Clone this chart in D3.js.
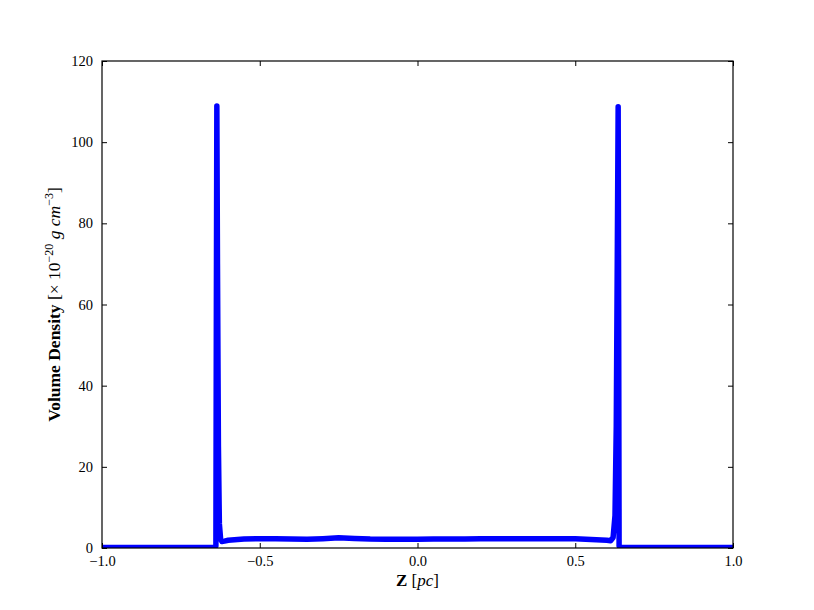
<!DOCTYPE html>
<html>
<head>
<meta charset="utf-8">
<script src="https://cdn.jsdelivr.net/npm/d3@7"></script>
<style>
body { margin: 0; background: #fff; }
text { font-family: "Liberation Serif", "Times New Roman", serif; fill: #000; }
</style>
</head>
<body>
<div id="chartDiv"></div>
<script>
var width = 814;
var height = 610;
var margin = { top: 61, right: 81, bottom: 62, left: 102 };

// z position [pc]
var zValues = [-1.0, -0.643, -0.639, -0.6375, -0.636, -0.634, -0.631, -0.628, -0.624, -0.620, -0.612, -0.600,
    -0.55, -0.50, -0.45, -0.40, -0.35, -0.30, -0.25, -0.20, -0.15, -0.10, -0.05, 0.0,
    0.05, 0.10, 0.15, 0.20, 0.25, 0.30, 0.35, 0.40, 0.45, 0.50, 0.55, 0.60, 0.612, 0.620,
    0.626, 0.630, 0.6335, 0.636, 0.6375, 0.639, 0.643, 1.0];
// density [1e-20 g cm^-3]
var densityValues = [0.1, 0.1, 0.5, 60, 108.9, 70, 25, 6, 2.2, 1.6, 1.7, 1.9,
    2.2, 2.3, 2.25, 2.2, 2.15, 2.3, 2.5, 2.35, 2.2, 2.15, 2.15, 2.15,
    2.2, 2.2, 2.2, 2.25, 2.3, 2.3, 2.25, 2.25, 2.3, 2.3, 2.1, 1.9, 1.8, 2.6,
    8, 30, 75, 108.7, 60, 0.5, 0.1, 0.1];

var xTicks = [-1.0, -0.5, 0.0, 0.5, 1.0];
var yTicks = [0, 20, 40, 60, 80, 100, 120];
var xDomain = [-1, 1];
var yDomain = [0, 120];

var chartWidth = width - margin.left - margin.right;
var chartHeight = height - margin.top - margin.bottom;

var x = d3.scaleLinear().domain(xDomain).range([0, chartWidth]);
var y = d3.scaleLinear().domain(yDomain).range([chartHeight, 0]);

var fmtX = function(d) { return d3.format(".1f")(d).replace("-", "\u2212"); };

var chart = d3.select("#chartDiv").append("svg")
    .attr("width", width)
    .attr("height", height);

chart.append("defs").append("clipPath")
    .attr("id", "plotClip")
    .append("rect")
    .attr("width", chartWidth)
    .attr("height", chartHeight);

var plotArea = chart.append("g")
    .attr("transform", "translate(" + margin.left + "," + margin.top + ")");

var data = zValues.map(function(z, i) { return { z: z, rho: densityValues[i] }; });

var line = d3.line()
    .x(function(d) { return x(d.z); })
    .y(function(d) { return y(d.rho); });

plotArea.append("g")
    .attr("clip-path", "url(#plotClip)")
    .append("path")
    .datum(data)
    .attr("d", line)
    .attr("fill", "none")
    .attr("stroke", "#0000ff")
    .attr("stroke-width", 5.5)
    .attr("stroke-linejoin", "round")
    .attr("stroke-linecap", "round");

// axes, ticks pointing inward on all four sides
var tickLen = 5;
var xAxisBottom = d3.axisBottom(x).tickValues(xTicks).tickSizeInner(-tickLen).tickSizeOuter(0).tickPadding(8).tickFormat(fmtX);
var xAxisTop = d3.axisTop(x).tickValues(xTicks).tickSizeInner(-tickLen).tickSizeOuter(0).tickFormat("");
var yAxisLeft = d3.axisLeft(y).tickValues(yTicks).tickSizeInner(-tickLen).tickSizeOuter(0).tickPadding(9);
var yAxisRight = d3.axisRight(y).tickValues(yTicks).tickSizeInner(-tickLen).tickSizeOuter(0).tickFormat("");

function styleAxis(g) {
    g.select(".domain").remove();
    g.selectAll(".tick line").attr("stroke", "#000").attr("stroke-width", 1);
    g.selectAll(".tick text").style("font-size", "14.5px").style("font-family", "Liberation Serif, serif").attr("fill", "#000");
}

plotArea.append("g").attr("transform", "translate(0," + chartHeight + ")").call(xAxisBottom).call(styleAxis);
plotArea.append("g").call(xAxisTop).call(styleAxis);
plotArea.append("g").call(yAxisLeft).call(styleAxis);
plotArea.append("g").attr("transform", "translate(" + chartWidth + ",0)").call(yAxisRight).call(styleAxis);

// frame
plotArea.append("rect")
    .attr("width", chartWidth)
    .attr("height", chartHeight)
    .attr("fill", "none")
    .attr("stroke", "#000")
    .attr("stroke-width", 1.2);

// x label
var xLabel = chart.append("text")
    .attr("text-anchor", "middle")
    .attr("x", margin.left + chartWidth / 2)
    .attr("y", 586)
    .style("font-size", "17px");
xLabel.append("tspan").style("font-weight", "bold").text("Z ");
xLabel.append("tspan").text("[");
xLabel.append("tspan").style("font-style", "italic").text("pc");
xLabel.append("tspan").text("]");

// y label
var yLabel = chart.append("text")
    .attr("text-anchor", "middle")
    .attr("transform", "translate(60," + (margin.top + chartHeight / 2) + ") rotate(-90)")
    .style("font-size", "17.5px");
yLabel.append("tspan").style("font-weight", "bold").text("Volume Density ");
yLabel.append("tspan").text("[\u00d7 10");
yLabel.append("tspan").attr("dy", -7).style("font-size", "12px").text("\u221220");
yLabel.append("tspan").attr("dy", 7).style("font-style", "italic").text(" g cm");
yLabel.append("tspan").attr("dy", -7).style("font-size", "12px").text("\u22123");
yLabel.append("tspan").attr("dy", 7).text("]");
</script>
</body>
</html>
